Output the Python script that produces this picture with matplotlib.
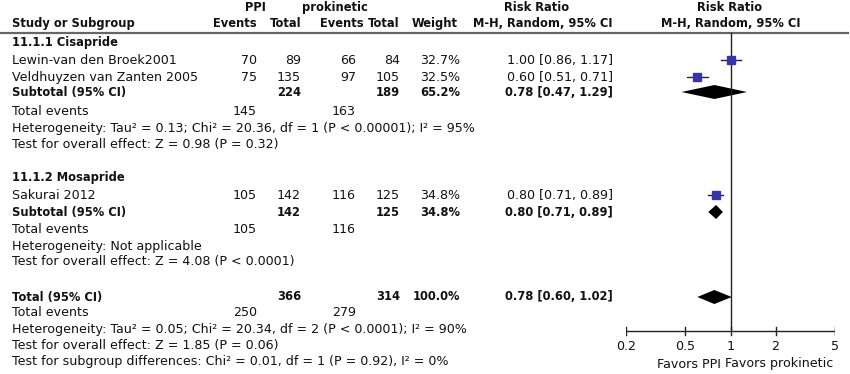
import matplotlib
matplotlib.use("Agg")
import matplotlib.pyplot as plt
import numpy as np

# study level data
studies = ["Lewin-van den Broek2001", "Veldhuyzen van Zanten 2005", "Sakurai 2012"]
ppi_events = [70, 75, 105]
ppi_total = [89, 135, 142]
pro_events = [66, 97, 116]
pro_total = [84, 105, 125]
weights = [32.7, 32.5, 34.8]
rr = [1.00, 0.60, 0.80]
rr_lo = [0.86, 0.51, 0.71]
rr_hi = [1.17, 0.71, 0.89]

# subtotals / total
pooled_names = ["Subtotal (95% CI)", "Subtotal (95% CI)", "Total (95% CI)"]
pooled_ppi_total = [224, 142, 366]
pooled_pro_total = [189, 125, 314]
pooled_ppi_events = [145, 105, 250]
pooled_pro_events = [163, 116, 279]
pooled_weight = [65.2, 34.8, 100.0]
pooled_rr = [0.78, 0.80, 0.78]
pooled_lo = [0.47, 0.71, 0.60]
pooled_hi = [1.29, 0.89, 1.02]

groups = ["11.1.1 Cisapride", "11.1.2 Mosapride"]
heterogeneity = ["Heterogeneity: Tau\u00b2 = 0.13; Chi\u00b2 = 20.36, df = 1 (P < 0.00001); I\u00b2 = 95%",
                 "Heterogeneity: Not applicable",
                 "Heterogeneity: Tau\u00b2 = 0.05; Chi\u00b2 = 20.34, df = 2 (P < 0.0001); I\u00b2 = 90%"]
overall = ["Test for overall effect: Z = 0.98 (P = 0.32)",
           "Test for overall effect: Z = 4.08 (P < 0.0001)",
           "Test for overall effect: Z = 1.85 (P = 0.06)"]
subgroup_diff = "Test for subgroup differences: Chi\u00b2 = 0.01, df = 1 (P = 0.92), I\u00b2 = 0%"
ticks = [0.2, 0.5, 1, 2, 5]
tick_labels = ["0.2", "0.5", "1", "2", "5"]

W, H = 850, 374
fig = plt.figure(figsize=(W / 100, H / 100), dpi=100)
ax = fig.add_axes([0, 0, 1, 1])
ax.set_xlim(0, W)
ax.set_ylim(H, 0)
ax.axis("off")

fs = 9.1      # regular text
fs_b = 8.3    # bold text
col = "#111111"

def t(x, y, s, ha="left", bold=False):
    ax.text(x, y, s, ha=ha, va="center", fontsize=fs_b if bold else fs, color=col,
            fontweight="bold" if bold else "normal")

# column positions (right edges)
x_ev1, x_tot1, x_ev2, x_tot2, x_w, x_ci = 257, 301, 356, 400, 460, 613

# headers
t(255, 7, "PPI", ha="center", bold=True)
t(335, 7, "prokinetic", ha="center", bold=True)
t(537, 7, "Risk Ratio", ha="center", bold=True)
t(730, 7, "Risk Ratio", ha="center", bold=True)
t(12, 23, "Study or Subgroup", bold=True)
t(x_ev1, 23, "Events", ha="right", bold=True)
t(x_tot1 + 1, 23, "Total", ha="right", bold=True)
t(364, 23, "Events", ha="right", bold=True)
t(x_tot2, 23, "Total", ha="right", bold=True)
t(458, 23, "Weight", ha="right", bold=True)
t(x_ci, 23, "M-H, Random, 95% CI", ha="right", bold=True)
t(731, 23, "M-H, Random, 95% CI", ha="center", bold=True)
ax.plot([0, 848], [32.5, 32.5], color="#666666", lw=1.6)

# row layout
study_y = [60, 77, 195]
group_y = [42, 177]
pooled_y = [92, 212, 297]
events_y = [111, 229, 313]
het_y = [128, 246, 329]
ov_y = [144, 262, 345]

for g, y in zip(groups, group_y):
    t(12, y, g, bold=True)

for i in range(len(studies)):
    y = study_y[i]
    t(12, y, studies[i])
    t(x_ev1, y, str(ppi_events[i]), ha="right")
    t(x_tot1, y, str(ppi_total[i]), ha="right")
    t(x_ev2, y, str(pro_events[i]), ha="right")
    t(x_tot2, y, str(pro_total[i]), ha="right")
    t(x_w, y, "%.1f%%" % weights[i], ha="right")
    t(x_ci, y, "%.2f [%.2f, %.2f]" % (rr[i], rr_lo[i], rr_hi[i]), ha="right")

for i in range(len(pooled_names)):
    y = pooled_y[i]
    t(12, y, pooled_names[i], bold=True)
    t(x_tot1, y, str(pooled_ppi_total[i]), ha="right", bold=True)
    t(x_tot2, y, str(pooled_pro_total[i]), ha="right", bold=True)
    t(x_w, y, "%.1f%%" % pooled_weight[i], ha="right", bold=True)
    t(x_ci, y, "%.2f [%.2f, %.2f]" % (pooled_rr[i], pooled_lo[i], pooled_hi[i]), ha="right", bold=True)
    t(12, events_y[i], "Total events")
    t(x_ev1, events_y[i], str(pooled_ppi_events[i]), ha="right")
    t(x_ev2, events_y[i], str(pooled_pro_events[i]), ha="right")
    t(12, het_y[i], heterogeneity[i])
    t(12, ov_y[i], overall[i])
t(12, 361, subgroup_diff)

# forest panel: log scale from 0.2 to 5 spanning pixels 626..835
fx0, fx1 = 626, 835
ax2 = fig.add_axes([fx0 / W, 0, (fx1 - fx0) / W, 1])
ax2.set_xscale("log")
ax2.set_xlim(0.2, 5)
ax2.set_ylim(H, 0)
ax2.axis("off")
ax2.patch.set_alpha(0)

axis_y = 331
ax2.plot([1, 1], [33, axis_y], color="#222222", lw=1.0)
ax2.plot([0.2, 5], [axis_y, axis_y], color="#222222", lw=1.0)
for tk, lb in zip(ticks, tick_labels):
    ax2.plot([tk, tk], [axis_y - 4, axis_y + 4], color="#222222", lw=1.0)
    ax2.text(tk, 347, lb, ha="center", va="center", fontsize=fs, color=col)
ax2.annotate("Favors PPI", xy=(1, 364), xytext=(-7, 0), textcoords="offset points",
             ha="right", va="center", fontsize=fs, color=col)
ax2.annotate("Favors prokinetic", xy=(1, 364), xytext=(-4, 0), textcoords="offset points",
             ha="left", va="center", fontsize=fs, color=col)

# study squares with CI
sq_size = [7.5, 7.5, 8]
for i in range(len(studies)):
    y = study_y[i]
    ax2.plot([rr_lo[i], rr_hi[i]], [y, y], color="#222244", lw=1.0)
    ax2.plot(rr[i], y, marker="s", ms=sq_size[i] * 0.72, color="#3535a8", mec="#3535a8")

# pooled diamonds
for i in range(len(pooled_rr)):
    y = pooled_y[i]
    xs = [pooled_lo[i], pooled_rr[i], pooled_hi[i], pooled_rr[i]]
    ys = [y, y - 7, y, y + 7]
    ax2.fill(xs, ys, color="black", lw=0)

fig.savefig("out.png", dpi=100)
